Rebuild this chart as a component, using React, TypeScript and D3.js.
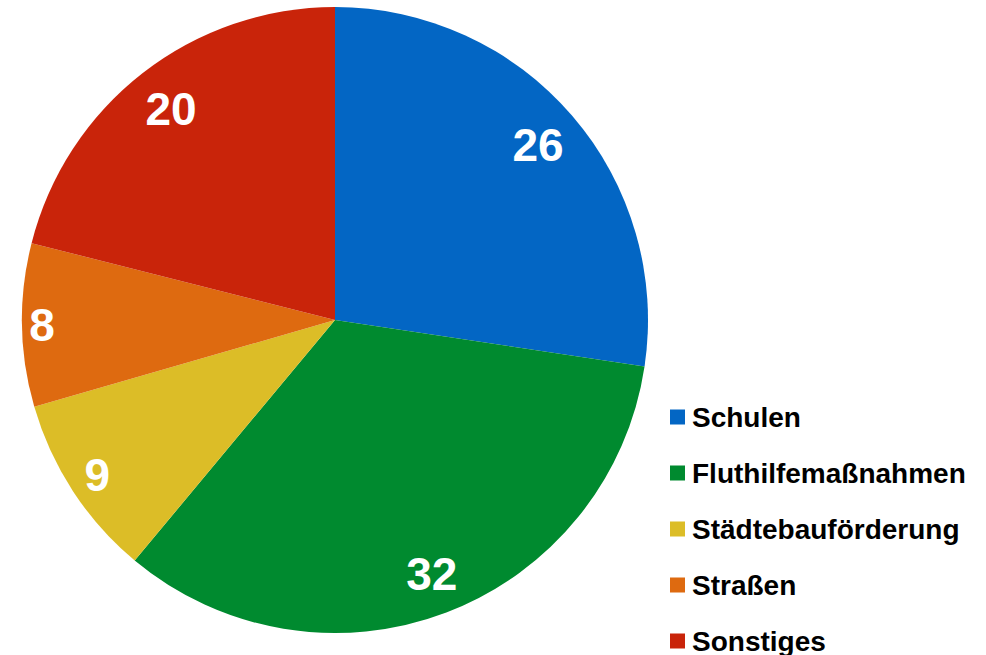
import React from "react";
import * as d3 from "d3";

const categories = ["Schulen", "Fluthilfemaßnahmen", "Städtebauförderung", "Straßen", "Sonstiges"];
const values = [26, 32, 9, 8, 20];
const colors = ["#0366c4", "#008a2f", "#dcbd27", "#de6a10", "#c9240a"];

export default function App() {
  const W = 986, H = 655;
  const cx = 335, cy = 320, R = 313;
  const labelRadii = [268, 272, 284, 293, 267];
  const pie = d3.pie<number>().sort(null).value((d) => d)(values);
  const arc = d3.arc<d3.PieArcDatum<number>>().innerRadius(0).outerRadius(R);
  const legendY = d3.scalePoint<string>().domain(categories).range([417, 641]);
  return (
    <svg width={W} height={H} style={{ position: "absolute", left: 0, top: 0, background: "#fff" }}>
      <g transform={`translate(${cx},${cy})`}>
        {pie.map((p, i) => (
          <path key={i} d={arc(p) || ""} fill={colors[i]} />
        ))}
        {pie.map((p, i) => {
          const la = d3.arc<d3.PieArcDatum<number>>().innerRadius(labelRadii[i]).outerRadius(labelRadii[i]);
          const [x, y] = la.centroid(p);
          return (
            <text key={i} x={x} y={y} textAnchor="middle" dominantBaseline="central" fill="#fff"
              fontFamily="Liberation Sans, Arial, sans-serif" fontWeight="bold" fontSize={46}>
              {values[i]}
            </text>
          );
        })}
      </g>
      {categories.map((c, i) => {
        const y = legendY(c) as number;
        return (
          <g key={c}>
            <rect x={670} y={y - 7.5} width={15} height={15} fill={colors[i]} />
            <text x={692} y={y} dominantBaseline="central" fontFamily="Liberation Sans, Arial, sans-serif"
              fontWeight="bold" fontSize={28} fill="#000">
              {c}
            </text>
          </g>
        );
      })}
    </svg>
  );
}
